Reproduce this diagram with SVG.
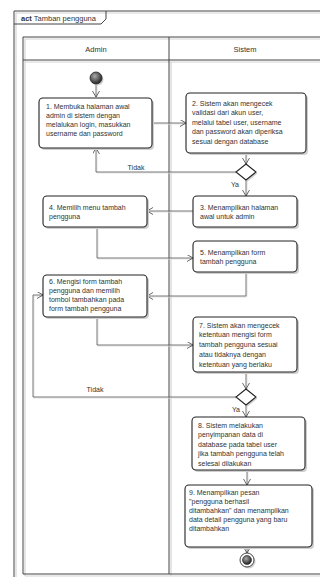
<svg xmlns="http://www.w3.org/2000/svg" width="320" height="577" viewBox="0 0 320 577">
<style>
.t{font-family:"Liberation Sans",Arial,sans-serif;font-size:7px;fill:#333}
.h{font-family:"Liberation Sans",Arial,sans-serif;font-size:7.5px;fill:#333}
.box{fill:#fff;stroke:#222;stroke-width:1.1}
.sh{fill:#cfcfcf;stroke:none}
.fr{fill:none;stroke:#444;stroke-width:1}
.frs{fill:none;stroke:#d4d4d4;stroke-width:1.2}
.c{fill:none;stroke:#555;stroke-width:0.8}
.cs{fill:none;stroke:#e0e0e0;stroke-width:0.9}
.lbl{font-family:"Liberation Sans",Arial,sans-serif;font-size:7px;fill:#333}
</style>
<defs>
<marker id="arr" markerUnits="userSpaceOnUse" markerWidth="8" markerHeight="8" refX="6" refY="3.5" orient="auto">
<path d="M0,0 L6,3.5 L0,7" fill="none" stroke="#444" stroke-width="0.8"/>
</marker>
<radialGradient id="g" cx="0.4" cy="0.35" r="0.7">
<stop offset="0" stop-color="#aaa"/>
<stop offset="1" stop-color="#1a1a1a"/>
</radialGradient>
</defs>
<rect width="320" height="577" fill="#fff"/>
<g id="frame">
<path class="frs" d="M16,578 V13 H320"/>
<path class="fr" d="M14,578 V11 H320"/>
<path class="fr" d="M14,24 H101 L106,19 V11"/>
<text x="21" y="21" class="h"><tspan font-weight="bold">act</tspan> Tamban pengguna</text>
</g>
<g id="pool">
<path class="frs" d="M25,576 V39 H320 M25,62 H320 M171,62 V576 M25,576 H320"/>
<path class="fr" d="M23,574 V37 H320 M23,60 H320 M169,37 V574 M23,574 H320"/>
<text x="96" y="52" class="h" text-anchor="middle">Admin</text>
<text x="245" y="52" class="h" text-anchor="middle">Sistem</text>
</g>
<g id="connectors">
<g class="cs" transform="translate(1,1)">
<path d="M96,84 V96"/><path d="M152,123 H185"/><path d="M246,153 V163"/><path d="M246,180 V195"/>
<path d="M236,172 H96 V149"/><path d="M193,211 H148"/><path d="M97,227 V258 H192"/>
<path d="M246,272 V296 H148"/><path d="M97,317 V345 H192"/><path d="M246,372 V388"/>
<path d="M246,405 V416"/><path d="M236,397 H33 V295 H42"/><path d="M247,470 V484"/><path d="M247,547 V552"/>
</g>
<path class="c" d="M96,84 V97" marker-end="url(#arr)"/>
<path class="c" d="M152,123 H186" marker-end="url(#arr)"/>
<path class="c" d="M246,153 V164" marker-end="url(#arr)"/>
<path class="c" d="M246,180 V196" marker-end="url(#arr)"/>
<path class="c" d="M236,172 H96 V148" marker-end="url(#arr)"/>
<path class="c" d="M193,211 H147" marker-end="url(#arr)"/>
<path class="c" d="M97,227 V258 H193" marker-end="url(#arr)"/>
<path class="c" d="M246,272 V296 H147" marker-end="url(#arr)"/>
<path class="c" d="M97,317 V345 H193" marker-end="url(#arr)"/>
<path class="c" d="M246,372 V389" marker-end="url(#arr)"/>
<path class="c" d="M246,405 V417" marker-end="url(#arr)"/>
<path class="c" d="M236,397 H33 V295 H43" marker-end="url(#arr)"/>
<path class="c" d="M247,470 V485" marker-end="url(#arr)"/>
<path class="c" d="M247,547 V553" marker-end="url(#arr)"/>
<text x="136" y="170" class="lbl" text-anchor="middle">Tidak</text>
<text x="235" y="187" class="lbl" text-anchor="middle">Ya</text>
<text x="95" y="392" class="lbl" text-anchor="middle">Tidak</text>
<text x="236" y="412" class="lbl" text-anchor="middle">Ya</text>
</g>
<g id="start">
<circle cx="97.5" cy="79.5" r="6" class="sh"/>
<circle cx="96" cy="78" r="6" fill="url(#g)" stroke="#222" stroke-width="0.8"/>
</g>
<g id="n1">
<rect x="41" y="100" width="113" height="50" rx="4" class="sh"/>
<rect x="39" y="98" width="113" height="50" rx="4" class="box"/>
<text class="t" x="46" y="108.7">1. Membuka halaman awal</text>
<text class="t" x="46" y="117.7">admin di sistem dengan</text>
<text class="t" x="46" y="126.7">melalukan login, masukkan</text>
<text class="t" x="46" y="135.7">username dan password</text>
</g>
<g id="n2">
<rect x="188" y="95" width="120" height="60" rx="4" class="sh"/>
<rect x="186" y="93" width="120" height="60" rx="4" class="box"/>
<text class="t" x="192" y="105.7">2. Sistem akan mengecek</text>
<text class="t" x="192" y="115.2">validasi dari akun user,</text>
<text class="t" x="192" y="124.7">melalui tabel user, username</text>
<text class="t" x="192" y="134.2">dan password akan diperiksa</text>
<text class="t" x="192" y="143.7">sesuai dengan database</text>
</g>
<g id="d1">
<polygon points="247.5,165.5 257.5,173.5 247.5,181.5 237.5,173.5" class="sh"/>
<polygon points="246,164 256,172 246,180 236,172" class="box"/>
</g>
<g id="n3">
<rect x="195" y="198" width="104" height="31" rx="4" class="sh"/>
<rect x="193" y="196" width="104" height="31" rx="4" class="box"/>
<text class="t" x="200" y="209.7">3. Menampilkan halaman</text>
<text class="t" x="200" y="218.7">awal untuk admin</text>
</g>
<g id="n4">
<rect x="45" y="198" width="104" height="31" rx="4" class="sh"/>
<rect x="43" y="196" width="104" height="31" rx="4" class="box"/>
<text class="t" x="49" y="209.7">4. Memilih menu tambah</text>
<text class="t" x="49" y="218.7">pengguna</text>
</g>
<g id="n5">
<rect x="195" y="243" width="104" height="31" rx="4" class="sh"/>
<rect x="193" y="241" width="104" height="31" rx="4" class="box"/>
<text class="t" x="200" y="254.7">5. Menampilkan form</text>
<text class="t" x="200" y="263.7">tambah pengguna</text>
</g>
<g id="n6">
<rect x="45" y="277" width="104" height="42" rx="4" class="sh"/>
<rect x="43" y="275" width="104" height="42" rx="4" class="box"/>
<text class="t" x="49" y="284.2">6. Mengisi form tambah</text>
<text class="t" x="49" y="293.2">pengguna dan memilih</text>
<text class="t" x="49" y="302.2">tombol tambahkan pada</text>
<text class="t" x="49" y="311.2">form tambah pengguna</text>
</g>
<g id="n7">
<rect x="195" y="319" width="104" height="55" rx="4" class="sh"/>
<rect x="193" y="317" width="104" height="55" rx="4" class="box"/>
<text class="t" x="199" y="327.7">7. Sistem akan mengecek</text>
<text class="t" x="199" y="337.4">ketentuan mengisi form</text>
<text class="t" x="199" y="347.1">tambah pengguna sesuai</text>
<text class="t" x="199" y="356.8">atau tidaknya dengan</text>
<text class="t" x="199" y="366.5">ketentuan yang berlaku</text>
</g>
<g id="d2">
<polygon points="247.5,390.5 257.5,398.5 247.5,406.5 237.5,398.5" class="sh"/>
<polygon points="246,389 256,397 246,405 236,397" class="box"/>
</g>
<g id="n8">
<rect x="194" y="419" width="113" height="53" rx="4" class="sh"/>
<rect x="192" y="417" width="113" height="53" rx="4" class="box"/>
<text class="t" x="198" y="427.7">8. Sistem melakukan</text>
<text class="t" x="198" y="437.2">penyimpanan data di</text>
<text class="t" x="198" y="446.7">database pada tabel user</text>
<text class="t" x="198" y="456.2">jika tambah  pengguna telah</text>
<text class="t" x="198" y="465.7">selesai dilakukan</text>
</g>
<g id="n9">
<rect x="187" y="487" width="127" height="62" rx="4" class="sh"/>
<rect x="185" y="485" width="127" height="62" rx="4" class="box"/>
<text class="t" x="189" y="494.7">9. Menampilkan pesan</text>
<text class="t" x="189" y="503.7">"pengguna berhasil</text>
<text class="t" x="189" y="512.7">ditambahkan" dan menampilkan</text>
<text class="t" x="189" y="521.7">data detail pengguna yang baru</text>
<text class="t" x="189" y="530.7">ditambahkan</text>
</g>
<g id="end">
<circle cx="248.5" cy="561.5" r="7" class="sh"/>
<circle cx="247" cy="560" r="7" fill="#fff" stroke="#333" stroke-width="0.9"/>
<circle cx="247" cy="560" r="4.5" fill="url(#g)" stroke="#222" stroke-width="0.6"/>
</g>
</svg>
